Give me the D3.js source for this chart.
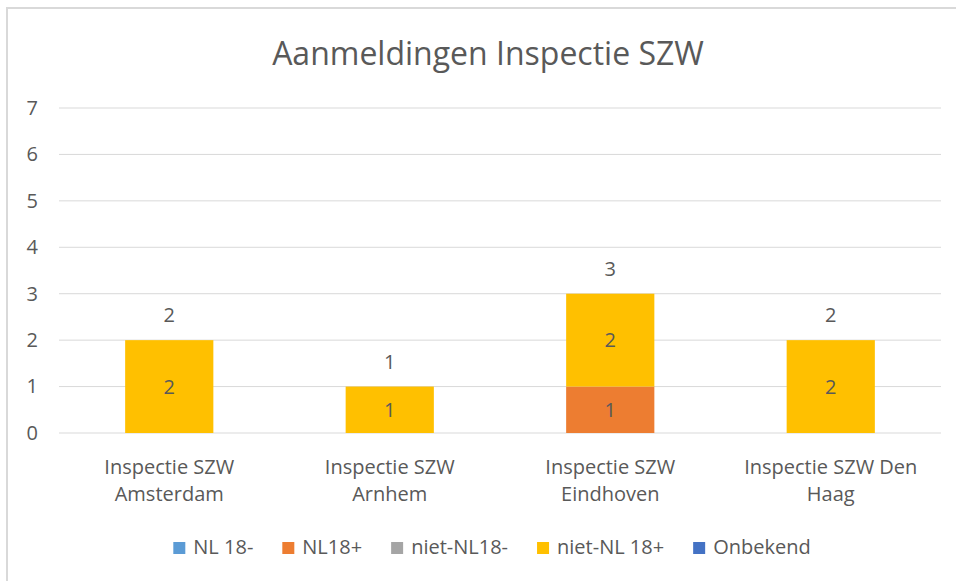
<!DOCTYPE html>
<html>
<head>
<meta charset="utf-8">
<script src="https://cdn.jsdelivr.net/npm/d3@7"></script>
<style>
  body { margin: 0; background: #fff; }
  svg text { font-family: "Open Sans", "Noto Sans", sans-serif; fill: #595959; }
</style>
</head>
<body>
<div id="chart"></div>
<script>
// data
var categories = ["Inspectie SZW Amsterdam", "Inspectie SZW Arnhem", "Inspectie SZW Eindhoven", "Inspectie SZW Den Haag"];
var seriesNames = ["NL 18-", "NL18+", "niet-NL18-", "niet-NL 18+", "Onbekend"];
var seriesColors = ["#5B9BD5", "#ED7D31", "#A5A5A5", "#FFC000", "#4472C4"];
var nl18min = [0, 0, 0, 0];
var nl18plus = [0, 0, 1, 0];
var nietNl18min = [0, 0, 0, 0];
var nietNl18plus = [2, 1, 2, 2];
var onbekend = [0, 0, 0, 0];
var yTicks = [0, 1, 2, 3, 4, 5, 6, 7];

var width = 956, height = 581;
var svg = d3.select("#chart").append("svg")
    .attr("width", width)
    .attr("height", height);

// chart frame (only top and left edges visible in the reference)
svg.append("rect").attr("x", 7).attr("y", 8).attr("width", 970).attr("height", 600)
    .attr("fill", "none").attr("stroke", "#d9d9d9").attr("stroke-width", 2);

// build table for the stack
var table = categories.map(function(c, i) {
    return {
        cat: c,
        "NL 18-": nl18min[i],
        "NL18+": nl18plus[i],
        "niet-NL18-": nietNl18min[i],
        "niet-NL 18+": nietNl18plus[i],
        "Onbekend": onbekend[i]
    };
});
var stacked = d3.stack().keys(seriesNames)(table);

var x = d3.scaleBand().domain(categories).range([59, 941]).paddingInner(0.6).paddingOuter(0.3);
var y = d3.scaleLinear().domain([0, 7]).range([433, 108]);
var color = d3.scaleOrdinal().domain(seriesNames).range(seriesColors);

// title
svg.append("text")
    .attr("x", 488).attr("y", 65)
    .attr("text-anchor", "middle")
    .style("font-size", "32px")
    .text("Aanmeldingen Inspectie SZW");

// gridlines
svg.append("g").selectAll("line")
    .data(yTicks)
    .enter().append("line")
    .attr("x1", 59).attr("x2", 941)
    .attr("y1", function(d) { return y(d); })
    .attr("y2", function(d) { return y(d); })
    .attr("stroke", "#d9d9d9").attr("stroke-width", 1);

// y axis labels
var yAxis = svg.append("g")
    .attr("transform", "translate(38,0)")
    .call(d3.axisLeft(y).tickValues(yTicks).tickFormat(d3.format("d")).tickSize(0).tickPadding(0));
yAxis.select(".domain").remove();
yAxis.selectAll("text").style("font-size", "20px").attr("fill", "#595959").attr("font-family", null);

// bars
var layers = svg.append("g").selectAll("g")
    .data(stacked)
    .enter().append("g")
    .attr("fill", function(d) { return color(d.key); });

layers.selectAll("rect")
    .data(function(d) { return d; })
    .enter().append("rect")
    .attr("x", function(d) { return x(d.data.cat); })
    .attr("y", function(d) { return y(d[1]); })
    .attr("width", x.bandwidth())
    .attr("height", function(d) { return y(d[0]) - y(d[1]); });

// labels inside segments
layers.selectAll("text")
    .data(function(d) { return d.filter(function(p) { return p[1] - p[0] > 0; }); })
    .enter().append("text")
    .attr("x", function(d) { return x(d.data.cat) + x.bandwidth() / 2; })
    .attr("y", function(d) { return (y(d[0]) + y(d[1])) / 2; })
    .attr("dy", "0.35em")
    .attr("text-anchor", "middle")
    .style("font-size", "20px")
    .text(function(d) { return d[1] - d[0]; });

// totals above bars
var totals = categories.map(function(c, i) {
    return { cat: c, total: d3.sum(seriesNames, function(k) { return table[i][k]; }) };
});
svg.append("g").selectAll("text")
    .data(totals)
    .enter().append("text")
    .attr("x", function(d) { return x(d.cat) + x.bandwidth() / 2; })
    .attr("y", function(d) { return y(d.total) - 25; })
    .attr("dy", "0.35em")
    .attr("text-anchor", "middle")
    .style("font-size", "20px")
    .text(function(d) { return d.total; });

// category labels, wrapped
var xAxis = svg.append("g")
    .attr("transform", "translate(0,433)")
    .call(d3.axisBottom(x).tickSize(0).tickPadding(0));
xAxis.select(".domain").remove();
xAxis.selectAll("text")
    .style("font-size", "20px").attr("fill", "#595959").attr("font-family", null)
    .each(function(d) {
        var t = d3.select(this);
        var words = d.split(" ");
        t.text(null);
        var lines = [], line = [];
        var probe = t.append("tspan");
        words.forEach(function(w) {
            line.push(w);
            probe.text(line.join(" "));
            if (probe.node().getComputedTextLength() > x.step() * 0.86 && line.length > 1) {
                line.pop();
                lines.push(line.join(" "));
                line = [w];
            }
        });
        lines.push(line.join(" "));
        probe.remove();
        lines.forEach(function(l, i) {
            t.append("tspan").attr("x", 0).attr("y", 41 + i * 27).text(l);
        });
        t.attr("dy", null);
    });

// legend
var legend = svg.append("g");
var lx = 0;
var items = legend.selectAll("g")
    .data(seriesNames)
    .enter().append("g");
items.append("rect")
    .attr("width", 12).attr("height", 12).attr("y", -12)
    .attr("fill", function(d) { return color(d); });
items.append("text")
    .attr("x", 20)
    .style("font-size", "20px")
    .text(function(d) { return d; });
items.each(function() {
    var g = d3.select(this);
    g.attr("transform", "translate(" + lx + ",0)");
    lx += 20 + g.select("text").node().getComputedTextLength() + 29;
});
lx -= 29;
legend.attr("transform", "translate(" + (492 - lx / 2) + ",554)");
</script>
</body>
</html>
